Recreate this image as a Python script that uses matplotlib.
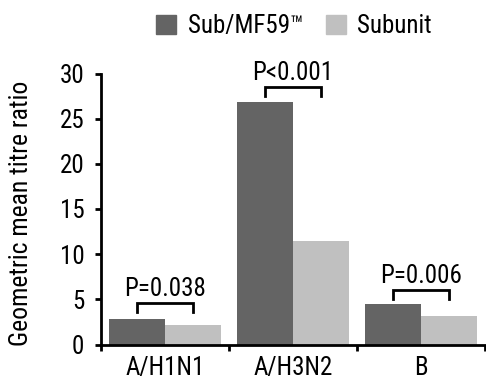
import matplotlib
matplotlib.use("Agg")
import matplotlib.pyplot as plt
import numpy as np
from matplotlib.patches import Patch

plt.rcParams['font.family'] = ['Roboto Condensed', 'Liberation Sans', 'DejaVu Sans']

categories = ["A/H1N1", "A/H3N2", "B"]
sub_mf59 = [2.8, 26.9, 4.5]
subunit = [2.2, 11.5, 3.2]
p_labels = ["P=0.038", "P<0.001", "P=0.006"]
bracket_y = [4.6, 28.5, 6.0]
series_names = ["Sub/MF59\u2122", "Subunit"]

dark = "#646464"
light = "#c0c0c0"

fig = plt.figure(figsize=(4.86, 3.79), dpi=100)
ax = fig.add_axes([101/486, 1-344.5/379, (485-101)/486, (344.5-73.5)/379])

x = np.arange(len(categories))
w = 0.434
ax.bar(x - w/2, sub_mf59, width=w, color=dark, linewidth=0)
ax.bar(x + w/2, subunit, width=w, color=light, linewidth=0)

for i, (lab, by) in enumerate(zip(p_labels, bracket_y)):
    x0, x1 = i - w/2, i + w/2
    ax.plot([x0, x0, x1, x1], [by - 1.0, by, by, by - 1.0], color="black", lw=2,
            solid_joinstyle="miter", clip_on=False)
    ax.text(i, by + 0.8, lab, ha="center", va="baseline", fontsize=18)

ax.set_xlim(-0.5, 2.5)
ax.set_ylim(0, 30)
ax.set_yticks([0, 5, 10, 15, 20, 25, 30])
ax.set_xticks([-0.5, 0.5, 1.5, 2.5])
ax.set_xticklabels([])
ax.set_xticks(x, minor=True)
ax.set_xticklabels(categories, minor=True)
ax.tick_params(axis="x", which="minor", length=0, labelsize=18, pad=8)
ax.tick_params(axis="x", which="major", length=4, width=2, direction="out")
ax.tick_params(axis="y", length=4, width=2, direction="out", labelsize=18, pad=8)
for s in ["top", "right"]:
    ax.spines[s].set_visible(False)
for s in ["left", "bottom"]:
    ax.spines[s].set_linewidth(2)

fig.text(21/486, 1-213/379, "Geometric mean titre ratio", rotation=90,
         ha="center", va="center", fontsize=18.5)

handles = [Patch(color=dark), Patch(color=light)]
fig.legend(handles, series_names, loc="center", bbox_to_anchor=(294/486, 1-26/379),
           ncol=2, frameon=False, fontsize=18, handlelength=0.8, handleheight=0.8,
           handletextpad=0.45, columnspacing=0.9, borderaxespad=0, borderpad=0)

fig.savefig("out.png", dpi=100)
